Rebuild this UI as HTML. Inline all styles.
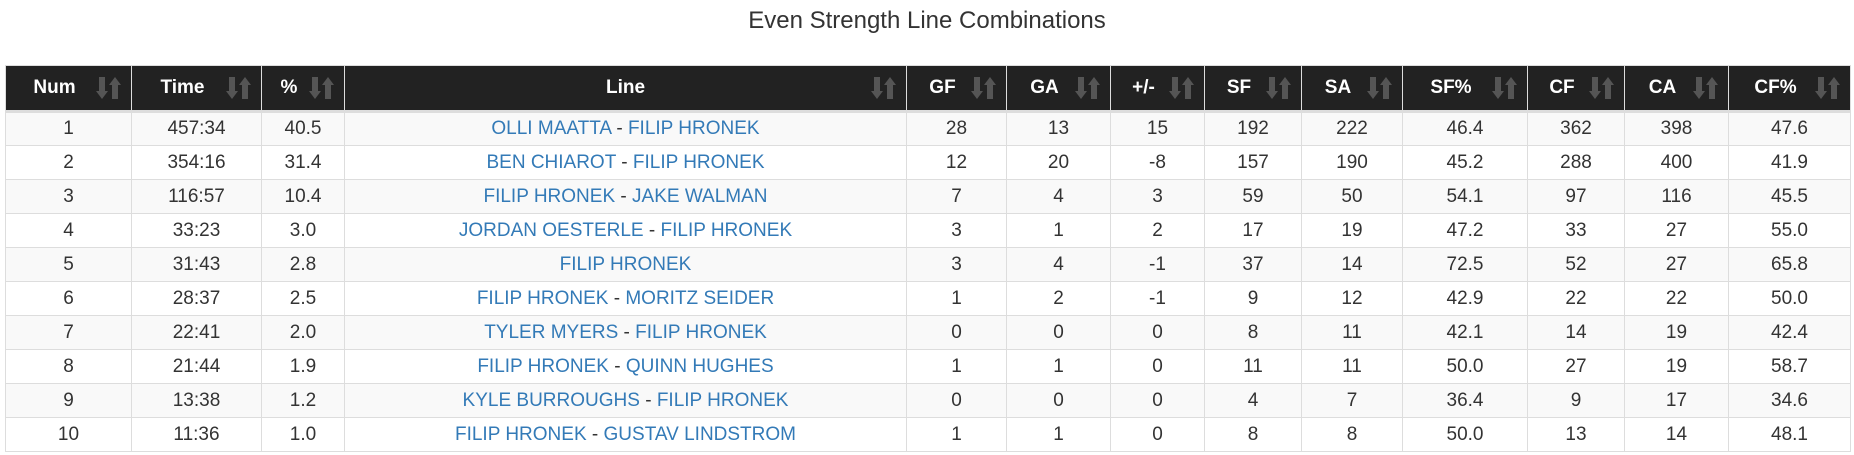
<!DOCTYPE html>
<html><head><meta charset="utf-8"><style>
body{margin:0;width:1854px;height:455px;background:#fff;font-family:"Liberation Sans",Arial,sans-serif;overflow:hidden;position:relative}
h1{position:absolute;top:6px;left:0;width:1854px;text-align:center;font-weight:normal;font-size:24px;color:#333;margin:0;line-height:30px}
table{position:absolute;left:5px;top:65px;border-collapse:collapse;table-layout:fixed;width:1845px}
th{background:#222;color:#fff;font-weight:bold;font-size:19px;height:46px;padding:0 28px 0 0;border:1px solid #ddd;border-bottom:3px solid #ddd;position:relative;text-align:center;box-sizing:border-box}
th svg{position:absolute;right:10px;top:11px}
td{height:34px;box-sizing:border-box;border:1px solid #ddd;text-align:center;font-size:19px;color:#333;padding:0}
tr:nth-child(odd) td{background:#f9f9f9}
a{color:#337ab7;text-decoration:none}
</style></head><body>
<svg width="0" height="0" style="position:absolute"><defs><g id="i"><path d="M3 0h6v14h3l-6 8l-6-8h3z" fill="#555"/><path d="M16 22h6v-14h3l-6-8l-6 8h3z" fill="#555"/></g></defs></svg>
<h1>Even Strength Line Combinations</h1>
<table>
<colgroup><col style="width:126px"><col style="width:130px"><col style="width:83px"><col style="width:562px"><col style="width:100px"><col style="width:104px"><col style="width:94px"><col style="width:97px"><col style="width:101px"><col style="width:125px"><col style="width:97px"><col style="width:104px"><col style="width:122px"></colgroup>
<thead><tr>
<th>Num<svg width="25" height="22"><use href="#i"/></svg></th><th>Time<svg width="25" height="22"><use href="#i"/></svg></th><th>%<svg width="25" height="22"><use href="#i"/></svg></th><th style="padding:0">Line<svg width="25" height="22"><use href="#i"/></svg></th><th>GF<svg width="25" height="22"><use href="#i"/></svg></th><th>GA<svg width="25" height="22"><use href="#i"/></svg></th><th>+/-<svg width="25" height="22"><use href="#i"/></svg></th><th>SF<svg width="25" height="22"><use href="#i"/></svg></th><th>SA<svg width="25" height="22"><use href="#i"/></svg></th><th>SF%<svg width="25" height="22"><use href="#i"/></svg></th><th>CF<svg width="25" height="22"><use href="#i"/></svg></th><th>CA<svg width="25" height="22"><use href="#i"/></svg></th><th>CF%<svg width="25" height="22"><use href="#i"/></svg></th>
</tr></thead>
<tbody>
<tr><td>1</td><td>457:34</td><td>40.5</td><td><a>OLLI MAATTA</a> - <a>FILIP HRONEK</a></td><td>28</td><td>13</td><td>15</td><td>192</td><td>222</td><td>46.4</td><td>362</td><td>398</td><td>47.6</td></tr>
<tr><td>2</td><td>354:16</td><td>31.4</td><td><a>BEN CHIAROT</a> - <a>FILIP HRONEK</a></td><td>12</td><td>20</td><td>-8</td><td>157</td><td>190</td><td>45.2</td><td>288</td><td>400</td><td>41.9</td></tr>
<tr><td>3</td><td>116:57</td><td>10.4</td><td><a>FILIP HRONEK</a> - <a>JAKE WALMAN</a></td><td>7</td><td>4</td><td>3</td><td>59</td><td>50</td><td>54.1</td><td>97</td><td>116</td><td>45.5</td></tr>
<tr><td>4</td><td>33:23</td><td>3.0</td><td><a>JORDAN OESTERLE</a> - <a>FILIP HRONEK</a></td><td>3</td><td>1</td><td>2</td><td>17</td><td>19</td><td>47.2</td><td>33</td><td>27</td><td>55.0</td></tr>
<tr><td>5</td><td>31:43</td><td>2.8</td><td><a>FILIP HRONEK</a></td><td>3</td><td>4</td><td>-1</td><td>37</td><td>14</td><td>72.5</td><td>52</td><td>27</td><td>65.8</td></tr>
<tr><td>6</td><td>28:37</td><td>2.5</td><td><a>FILIP HRONEK</a> - <a>MORITZ SEIDER</a></td><td>1</td><td>2</td><td>-1</td><td>9</td><td>12</td><td>42.9</td><td>22</td><td>22</td><td>50.0</td></tr>
<tr><td>7</td><td>22:41</td><td>2.0</td><td><a>TYLER MYERS</a> - <a>FILIP HRONEK</a></td><td>0</td><td>0</td><td>0</td><td>8</td><td>11</td><td>42.1</td><td>14</td><td>19</td><td>42.4</td></tr>
<tr><td>8</td><td>21:44</td><td>1.9</td><td><a>FILIP HRONEK</a> - <a>QUINN HUGHES</a></td><td>1</td><td>1</td><td>0</td><td>11</td><td>11</td><td>50.0</td><td>27</td><td>19</td><td>58.7</td></tr>
<tr><td>9</td><td>13:38</td><td>1.2</td><td><a>KYLE BURROUGHS</a> - <a>FILIP HRONEK</a></td><td>0</td><td>0</td><td>0</td><td>4</td><td>7</td><td>36.4</td><td>9</td><td>17</td><td>34.6</td></tr>
<tr><td>10</td><td>11:36</td><td>1.0</td><td><a>FILIP HRONEK</a> - <a>GUSTAV LINDSTROM</a></td><td>1</td><td>1</td><td>0</td><td>8</td><td>8</td><td>50.0</td><td>13</td><td>14</td><td>48.1</td></tr>
</tbody></table>
</body></html>
